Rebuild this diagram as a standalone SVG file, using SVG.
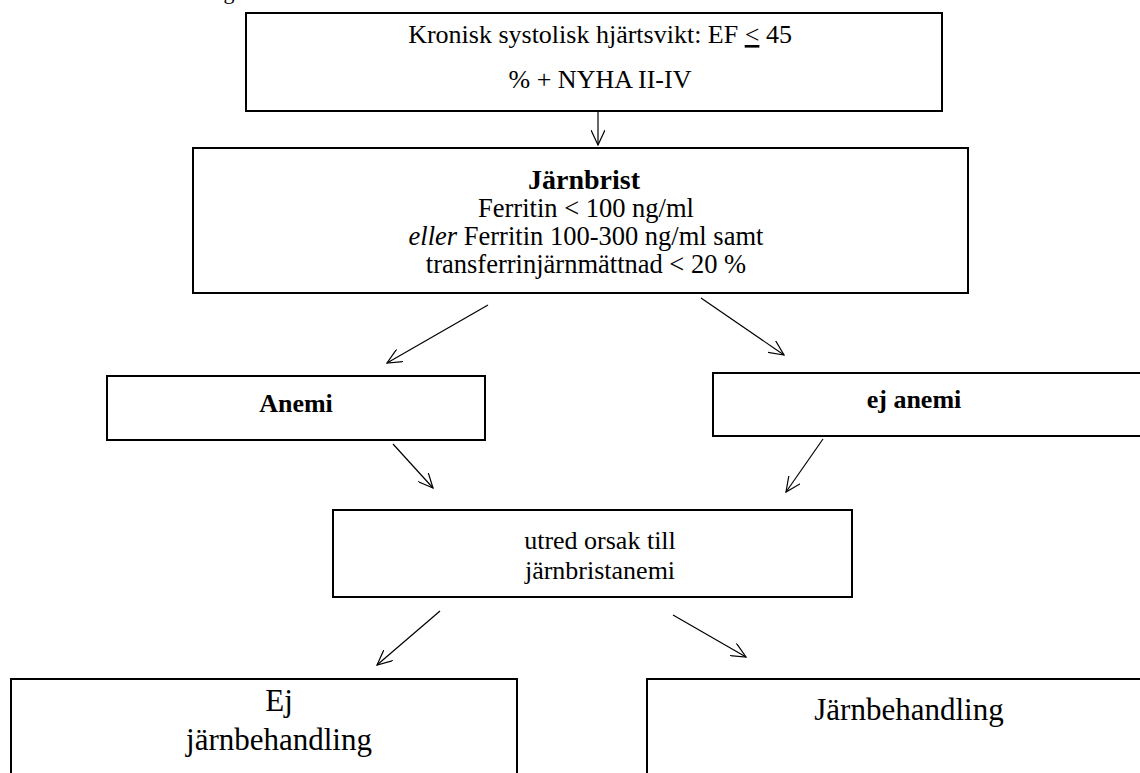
<svg xmlns="http://www.w3.org/2000/svg" width="1140" height="773" viewBox="0 0 1140 773">
<defs>
<marker id="ah" viewBox="0 0 16 14" refX="15" refY="7" markerWidth="16" markerHeight="14" markerUnits="userSpaceOnUse" orient="auto">
<path d="M0,0 L15,7 L0,14" fill="none" stroke="#000" stroke-width="1.2"/>
</marker>
<style>
.box{fill:#fff;stroke:#000;stroke-width:2}
.t{font-family:"Liberation Serif","Times New Roman",serif;fill:#000;text-anchor:middle}
.b{font-weight:bold}
.c{stroke:#000;stroke-width:1.2;fill:none;marker-end:url(#ah)}
</style>
</defs>
<rect width="1140" height="773" fill="#fff"/>
<text class="t" x="229" y="-1" font-size="22">g</text>
<g id="connectors">
<line class="c" x1="598" y1="111" x2="598" y2="145"/>
<line class="c" x1="488" y1="305" x2="387" y2="363"/>
<line class="c" x1="701" y1="298" x2="784" y2="355"/>
<line class="c" x1="393" y1="444" x2="433" y2="488"/>
<line class="c" x1="823" y1="439" x2="786" y2="492"/>
<line class="c" x1="440" y1="611" x2="377" y2="665"/>
<line class="c" x1="673" y1="615" x2="746" y2="657"/>
</g>
<g id="n1">
<rect class="box" x="246" y="13" width="696" height="98"/>
<text class="t" x="600" y="43" font-size="26">Kronisk systolisk hjärtsvikt: EF <tspan text-decoration="underline">&lt;</tspan> 45</text>
<text class="t" x="600" y="88" font-size="26">% + NYHA II-IV</text>
</g>
<g id="n2">
<rect class="box" x="193" y="148" width="775" height="145"/>
<text class="t b" x="584" y="189" font-size="28">Järnbrist</text>
<text class="t" x="586" y="217" font-size="26.5">Ferritin &lt; 100 ng/ml</text>
<text class="t" x="586" y="245" font-size="26.5"><tspan font-style="italic">eller</tspan> Ferritin 100-300 ng/ml samt</text>
<text class="t" x="586" y="273" font-size="26.5">transferrinjärnmättnad &lt; 20 %</text>
</g>
<g id="n3">
<rect class="box" x="107" y="376" width="378" height="64"/>
<text class="t b" x="296" y="412" font-size="26">Anemi</text>
</g>
<g id="n4">
<rect class="box" x="713" y="373" width="440" height="63"/>
<text class="t b" x="914" y="408" font-size="26">ej anemi</text>
</g>
<g id="n5">
<rect class="box" x="333" y="510" width="519" height="87"/>
<text class="t" x="600" y="549" font-size="26">utred orsak till</text>
<text class="t" x="600" y="579" font-size="26">järnbristanemi</text>
</g>
<g id="n6">
<rect class="box" x="11" y="679" width="506" height="100"/>
<text class="t" x="279" y="711" font-size="31">Ej</text>
<text class="t" x="279" y="750" font-size="31">järnbehandling</text>
</g>
<g id="n7">
<rect class="box" x="647" y="679" width="510" height="100"/>
<text class="t" x="909" y="720" font-size="31">Järnbehandling</text>
</g>
</svg>
